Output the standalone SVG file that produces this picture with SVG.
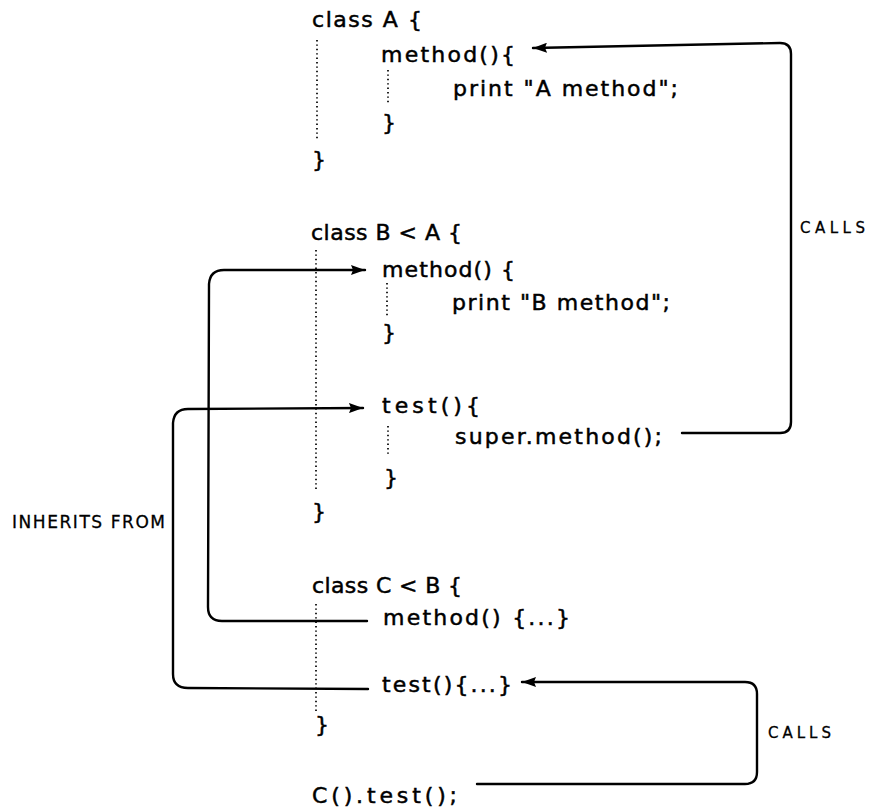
<svg xmlns="http://www.w3.org/2000/svg" width="875" height="809" viewBox="0 0 875 809">
<defs>
<style>
.code{font-family:"DejaVu Sans",sans-serif;font-size:22px;fill:#000;stroke:#000;stroke-width:0.5}
.lbl{font-family:"DejaVu Sans",sans-serif;font-size:15px;fill:#000;stroke:#000;stroke-width:0.3}
.conn{fill:none;stroke:#000;stroke-width:2.4;stroke-linecap:round;stroke-linejoin:round}
.dots{fill:none;stroke:#000;stroke-width:1.7;stroke-dasharray:1.4 3}
</style>
<marker id="ah" viewBox="0 0 14 10" refX="14" refY="5" markerWidth="14" markerHeight="10" markerUnits="userSpaceOnUse" orient="auto">
<path d="M0,0 L14,5 L0,10 L2,5 z" fill="#000"/>
</marker>
</defs>
<rect width="875" height="809" fill="#fff"/>

<g id="classA">
<text class="code" x="312" y="27" textLength="110" lengthAdjust="spacing">class A {</text>
<line class="dots" x1="317" y1="40" x2="317" y2="140"/>
<g id="methodA">
<text class="code" x="381" y="62" textLength="134" lengthAdjust="spacing">method(){</text>
<line class="dots" x1="388" y1="70" x2="388" y2="104"/>
<text class="code" x="453" y="96" textLength="225" lengthAdjust="spacing">print "A method";</text>
<text class="code" x="382" y="130">}</text>
</g>
<text class="code" x="312" y="167">}</text>
</g>

<g id="classB">
<text class="code" x="311" y="240" textLength="151" lengthAdjust="spacing">class B &lt; A {</text>
<line class="dots" x1="316" y1="250" x2="316" y2="492"/>
<g id="methodB">
<text class="code" x="382" y="277" textLength="133" lengthAdjust="spacing">method() {</text>
<line class="dots" x1="387" y1="283" x2="387" y2="316"/>
<text class="code" x="452" y="310" textLength="218" lengthAdjust="spacing">print "B method";</text>
<text class="code" x="382" y="340">}</text>
</g>
<g id="testB">
<text class="code" x="382" y="413" textLength="98" lengthAdjust="spacing">test(){</text>
<line class="dots" x1="388" y1="426" x2="388" y2="456"/>
<text class="code" x="455" y="444" textLength="207" lengthAdjust="spacing">super.method();</text>
<text class="code" x="384" y="485">}</text>
</g>
<text class="code" x="312" y="519">}</text>
</g>

<g id="classC">
<text class="code" x="312" y="593" textLength="150" lengthAdjust="spacing">class C &lt; B {</text>
<line class="dots" x1="316" y1="604" x2="316" y2="712"/>
<g id="methodC">
<text class="code" x="383" y="625" textLength="187" lengthAdjust="spacing">method() {...}</text>
</g>
<g id="testC">
<text class="code" x="382" y="692" textLength="130" lengthAdjust="spacing">test(){...}</text>
</g>
<text class="code" x="315" y="732">}</text>
</g>

<g id="call">
<text class="code" x="312" y="803" textLength="145" lengthAdjust="spacing">C().test();</text>
</g>

<g id="labels">
<text class="lbl" x="800" y="233" textLength="65" lengthAdjust="spacing">CALLS</text>
<text class="lbl" x="768" y="738" textLength="63" lengthAdjust="spacing">CALLS</text>
<text class="lbl" x="12" y="528" textLength="153" lengthAdjust="spacing" style="font-size:17px">INHERITS FROM</text>
</g>

<g id="connectors">
<path class="conn" d="M682,433 L780,433 Q791,433 791,422 L791,54 Q791,43 780,43 L533,48" marker-end="url(#ah)"/>
<path class="conn" d="M367,621 L222,621 Q208,621 208,607 L209,284 Q210,270 224,270 L365,270" marker-end="url(#ah)"/>
<path class="conn" d="M368,689 L188,688 Q173,688 173,674 L173,423 Q174,409 188,409 L363,408" marker-end="url(#ah)"/>
<path class="conn" d="M477,784 L745,784 Q757,784 757,772 L757,694 Q757,682 745,682 L522,682" marker-end="url(#ah)"/>
</g>
</svg>
